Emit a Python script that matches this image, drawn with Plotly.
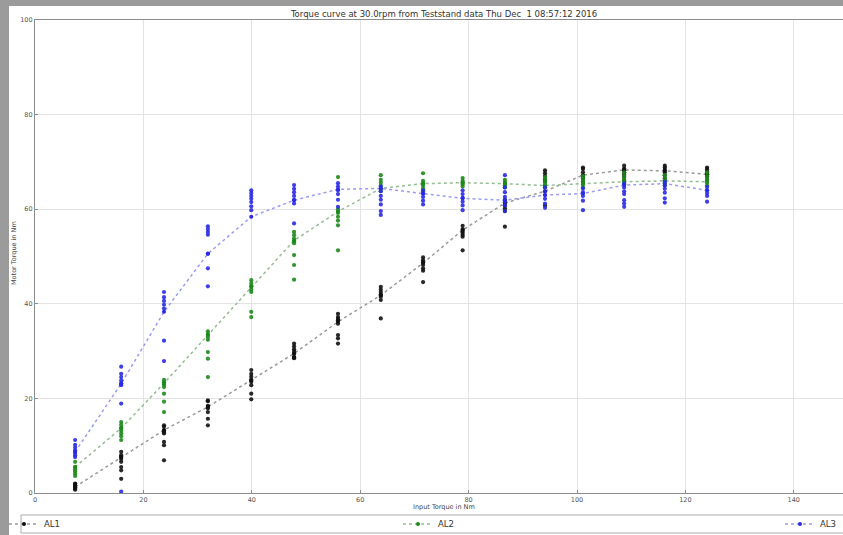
import plotly.graph_objects as go

# ---------------- data ----------------
CLUSTER_X = [7.4, 15.9, 23.8, 31.9, 39.9, 47.8, 55.9, 63.8,
             71.6, 78.9, 86.7, 94.1, 101.1, 108.7, 116.2, 124.0]

AL1_POINTS = [
    [2.0, 1.6, 1.2, 0.9, 1.5, 0.7, 1.9, 1.1],
    [8.7, 8.0, 7.2, 6.6, 5.5, 4.8, 3.0, 7.6],
    [14.3, 14.0, 13.2, 12.9, 12.6, 10.8, 10.1, 6.9],
    [19.6, 19.4, 18.4, 18.2, 17.9, 17.1, 15.7, 14.3],
    [26.0, 25.2, 24.6, 24.0, 23.5, 22.8, 21.0, 19.8],
    [31.6, 31.0, 30.4, 30.0, 29.5, 28.8, 28.6, 28.5],
    [37.9, 37.2, 36.8, 36.5, 35.8, 33.4, 32.7, 31.6],
    [43.6, 43.0, 42.5, 42.0, 41.5, 40.8, 36.9],
    [49.8, 49.2, 48.8, 48.2, 47.5, 47.0, 44.6],
    [56.5, 55.8, 55.4, 55.0, 54.6, 54.2, 51.3],
    [62.0, 61.4, 60.8, 60.2, 59.6, 56.3],
    [68.2, 67.6, 67.0, 66.3, 65.8, 65.0, 60.8],
    [68.8, 68.5, 67.8, 67.0, 66.5, 65.8],
    [69.2, 68.6, 68.2, 67.8, 67.3, 66.8, 66.0],
    [69.2, 68.8, 68.3, 67.8, 67.2, 66.5],
    [68.8, 68.4, 67.9, 67.4, 66.9, 66.2],
]
AL2_POINTS = [
    [6.6, 5.5, 5.0, 4.6, 4.1, 3.6],
    [15.0, 14.4, 13.8, 13.2, 12.6, 12.0, 11.2],
    [23.9, 23.4, 22.9, 22.4, 21.0, 19.3, 17.1],
    [34.2, 33.6, 33.0, 32.4, 29.8, 28.4, 24.5],
    [45.0, 44.3, 43.7, 43.0, 42.5, 38.3, 37.2],
    [55.2, 54.5, 53.8, 53.2, 52.8, 50.3, 48.2, 45.1],
    [66.8, 60.0, 59.2, 58.4, 57.6, 56.6, 51.3],
    [67.2, 66.2, 65.6, 65.0, 64.4, 63.8],
    [67.6, 66.0, 65.5, 65.0, 64.4, 63.8],
    [66.6, 66.0, 65.6, 65.2, 64.8],
    [66.2, 65.8, 65.4, 65.0, 64.6],
    [66.8, 66.2, 65.6, 65.0, 64.6],
    [67.0, 66.4, 65.8, 65.2, 64.6],
    [67.8, 67.0, 66.4, 65.8, 65.2],
    [67.2, 66.6, 66.0, 65.5, 65.0],
    [67.8, 67.0, 66.2, 65.6, 65.0],
]
AL3_POINTS = [
    [11.2, 10.2, 9.6, 9.0, 8.5, 8.0, 7.6],
    [26.7, 25.2, 24.5, 23.8, 23.2, 22.8, 18.9, 0.3],
    [42.5, 41.4, 40.6, 39.8, 39.0, 32.2, 27.9],
    [56.4, 55.8, 55.2, 54.6, 50.6, 47.5, 43.7],
    [64.0, 63.4, 62.8, 62.2, 61.5, 60.6, 59.8],
    [65.1, 64.3, 63.6, 62.8, 62.0, 61.2, 57.0],
    [65.5, 64.8, 64.0, 63.2, 62.0, 60.5],
    [64.8, 63.8, 62.8, 62.0, 61.0, 59.6, 58.8],
    [64.0, 63.3, 62.6, 61.8, 61.0],
    [64.0, 63.2, 62.4, 61.6, 60.8, 59.8],
    [67.2, 64.6, 63.6, 62.6, 61.6, 60.8, 59.6],
    [64.6, 63.8, 63.0, 62.2, 61.2, 60.3],
    [64.4, 63.6, 62.8, 61.8, 59.8],
    [65.4, 64.6, 63.8, 63.2, 61.9, 61.2, 60.5],
    [65.8, 65.0, 64.3, 63.5, 62.3, 61.4],
    [64.7, 64.0, 63.4, 62.8, 61.6],
]

AL1_LINE = [1.3, 7.6, 13.3, 18.2, 23.8, 29.5, 36.2, 41.8,
            48.6, 55.6, 61.3, 63.8, 67.2, 68.3, 68.1, 67.4]
AL2_LINE = [5.5, 13.7, 23.2, 33.4, 43.6, 53.4, 59.5, 64.4,
            65.4, 65.6, 65.4, 65.0, 65.4, 65.8, 66.0, 65.8]
AL3_LINE = [8.7, 23.1, 38.3, 50.6, 58.4, 61.9, 64.2, 64.4,
            63.3, 62.3, 61.9, 63.0, 63.3, 65.1, 65.4, 64.0]

SERIES_NAMES = ["AL1", "AL2", "AL3"]
X_TICKS = [0, 20, 40, 60, 80, 100, 120, 140]
Y_TICKS = [0, 20, 40, 60, 80, 100]
TITLE = "Torque curve at 30.0rpm from Teststand data Thu Dec  1 08:57:12 2016"
X_LABEL = "Input Torque in Nm"
Y_LABEL = "Motor Torque in Nm"

# ---------------- styling ----------------
W, H = 843, 535
ML, MR, MT, MB = 35, 0, 20, 42
PW, PH = W - ML - MR, H - MT - MB
FONT = "DejaVu Sans"


def px_x(px):
    return (px - ML) / PW


def px_y(py):
    return (H - MB - py) / PH


marker_colors = ["#111111", "#1c8a1c", "#2a2ae6"]
line_colors = ["#9a9a9a", "#94bd94", "#9c9cf0"]
legends = ["legend", "legend2", "legend3"]

fig = go.Figure()
for pts, line, name, mc, lc, lg in zip(
        [AL1_POINTS, AL2_POINTS, AL3_POINTS],
        [AL1_LINE, AL2_LINE, AL3_LINE],
        SERIES_NAMES, marker_colors, line_colors, legends):
    xs, ys = [], []
    for cx, cys in zip(CLUSTER_X, pts):
        for v in cys:
            xs.append(cx)
            ys.append(v)
    fig.add_trace(go.Scatter(
        x=CLUSTER_X, y=line, mode="lines+markers", name=name, legend=lg,
        line=dict(color=lc, width=1.5, dash="3px,3px"),
        marker=dict(color=mc, size=4),
    ))
    fig.add_trace(go.Scatter(
        x=xs, y=ys, mode="markers", showlegend=False,
        marker=dict(color=mc, size=4.2, opacity=0.9),
    ))

axis_common = dict(
    showgrid=True, gridcolor="#e3e3e3", gridwidth=1,
    showline=True, linecolor="#8c8c8c", linewidth=1.2, mirror=True,
    ticks="inside", ticklen=3, tickcolor="#8c8c8c",
    tickfont=dict(family=FONT, size=6.5, color="#555555"),
    zeroline=False, fixedrange=True,
)

fig.update_layout(
    width=W, height=H,
    margin=dict(l=ML, r=MR, t=MT, b=MB, autoexpand=False),
    paper_bgcolor="#9b9b9b",
    plot_bgcolor="white",
    font=dict(family=FONT, color="#333333"),
    title=dict(text=TITLE, x=px_x(444), xref="paper", xanchor="center",
               y=1 - 14 / H, yref="container", yanchor="middle",
               font=dict(family=FONT, size=8.5, color="#333333")),
    xaxis=dict(range=[0, PW / 5.42], tickvals=X_TICKS, **axis_common),
    yaxis=dict(range=[0, 100], tickvals=Y_TICKS, **axis_common),
    shapes=[
        dict(type="rect", xref="paper", yref="paper",
             x0=px_x(9), x1=px_x(860), y0=px_y(540), y1=px_y(6),
             fillcolor="white", line=dict(width=0), layer="below"),
        dict(type="rect", xref="paper", yref="paper",
             x0=px_x(21), x1=px_x(870), y0=px_y(533), y1=px_y(515),
             fillcolor="white", line=dict(color="#aaaaaa", width=1),
             layer="below"),
    ],
    annotations=[
        dict(text=X_LABEL, xref="paper", yref="paper", x=px_x(444),
             y=px_y(507), xanchor="center", yanchor="middle", showarrow=False,
             font=dict(family=FONT, size=6.5, color="#444444")),
        dict(text=Y_LABEL, xref="paper", yref="paper", x=px_x(14),
             y=px_y(253), xanchor="center", yanchor="middle", showarrow=False,
             textangle=-90,
             font=dict(family=FONT, size=6.5, color="#444444")),
    ],
)

leg_common = dict(orientation="h", yanchor="middle", xanchor="left",
                  y=px_y(524), bgcolor="rgba(0,0,0,0)", borderwidth=0,
                  font=dict(family=FONT, size=8.5, color="#333333"),
                  itemwidth=30)
fig.update_layout(
    legend=dict(x=px_x(4), **leg_common),
    legend2=dict(x=px_x(398), **leg_common),
    legend3=dict(x=px_x(780), **leg_common),
)

fig.write_html(
    "out.html",
    config={"displayModeBar": False},
    post_script="document.body.style.margin='0';"
                "document.body.style.overflow='hidden';",
)
